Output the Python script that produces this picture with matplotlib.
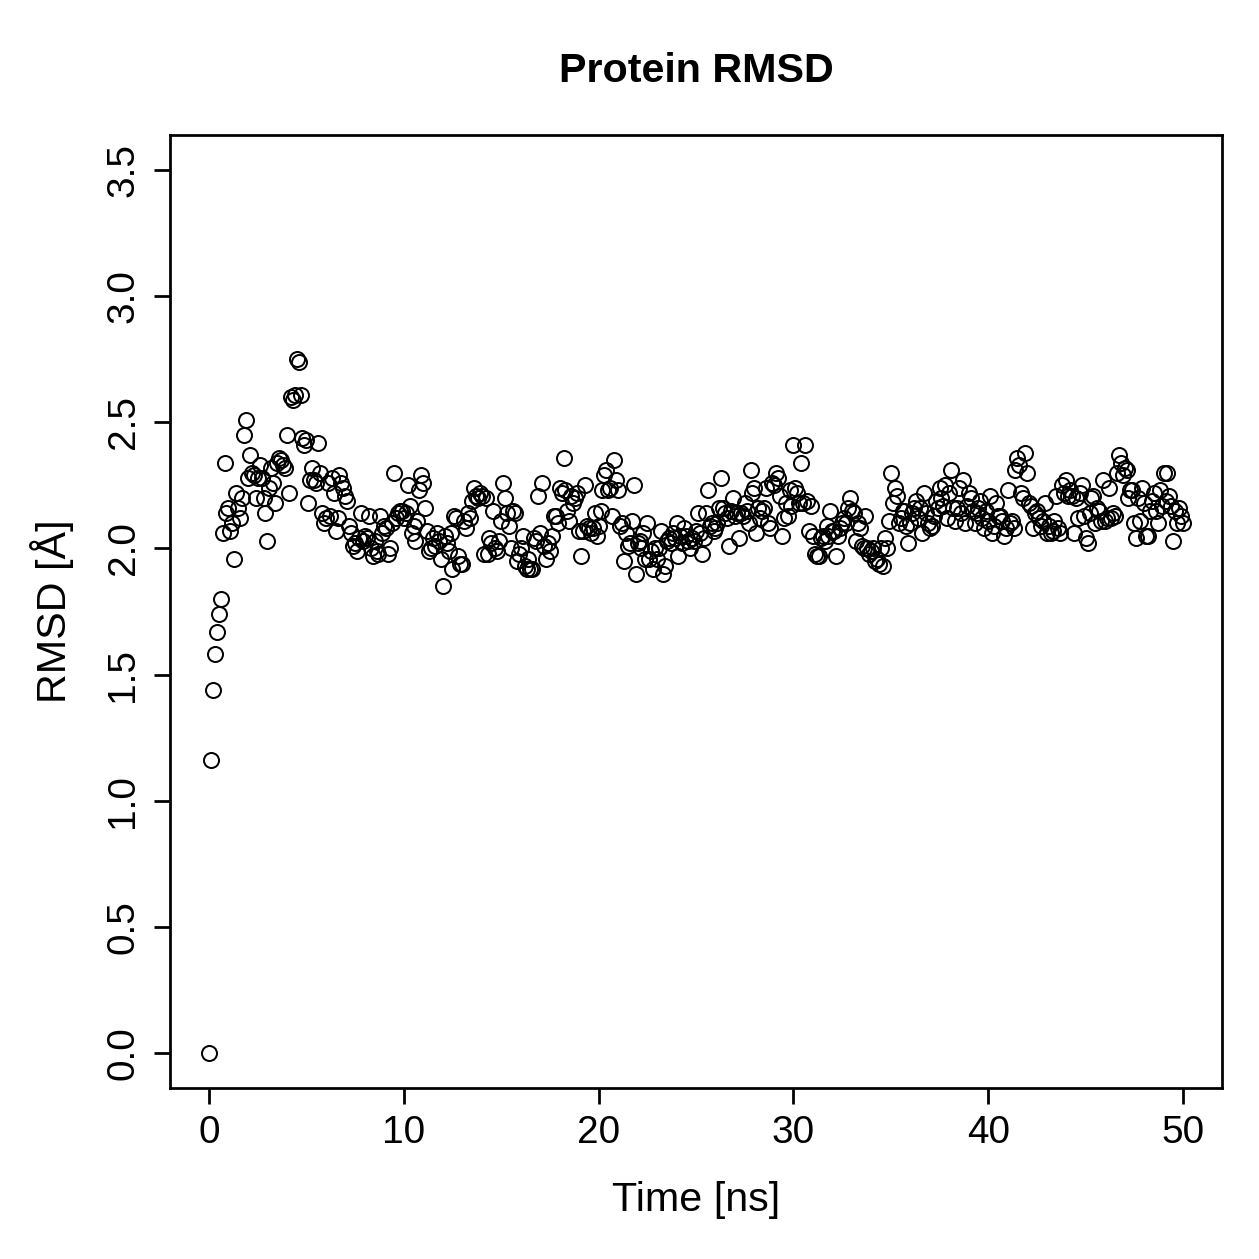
import matplotlib.pyplot as plt
import numpy as np

plt.rcParams['font.family'] = ['Liberation Sans', 'DejaVu Sans']

# RMSD values, one frame every 0.1 ns
rmsd = [
    0.00, 1.16, 1.44, 1.58, 1.67, 1.74, 1.80, 2.06, 2.34, 2.14,
    2.16, 2.07, 2.10, 1.96, 2.22, 2.16, 2.12, 2.20, 2.45, 2.51,
    2.28, 2.37, 2.30, 2.29, 2.20, 2.28, 2.33, 2.28, 2.20, 2.14,
    2.03, 2.24, 2.32, 2.26, 2.18, 2.34, 2.36, 2.35, 2.33, 2.32,
    2.45, 2.22, 2.60, 2.59, 2.61, 2.75, 2.74, 2.61, 2.44, 2.41,
    2.43, 2.18, 2.27, 2.32, 2.27, 2.26, 2.42, 2.30, 2.14, 2.10,
    2.12, 2.26, 2.13, 2.28, 2.22, 2.07, 2.12, 2.29, 2.26, 2.24,
    2.21, 2.19, 2.09, 2.06, 2.01, 2.02, 1.99, 2.04, 2.14, 2.03,
    2.05, 2.04, 2.13, 2.00, 1.97, 2.03, 1.99, 1.98, 2.13, 2.06,
    2.09, 2.08, 1.98, 2.00, 2.10, 2.30, 2.12, 2.14, 2.15, 2.15,
    2.12, 2.14, 2.25, 2.17, 2.06, 2.09, 2.03, 2.11, 2.23, 2.29,
    2.26, 2.16, 2.07, 1.99, 2.00, 2.04, 2.01, 2.06, 2.03, 1.96,
    1.85, 2.05, 2.02, 1.99, 2.06, 1.92, 2.13, 2.12, 1.97, 1.94,
    1.94, 2.11, 2.08, 2.14, 2.12, 2.19, 2.24, 2.21, 2.20, 2.22,
    2.21, 1.98, 2.20, 1.98, 2.04, 2.02, 2.15, 2.00, 1.99, 2.03,
    2.11, 2.26, 2.20, 2.14, 2.09, 2.00, 2.15, 2.14, 1.95, 1.98,
    2.00, 2.05, 1.93, 1.92, 1.96, 1.92, 1.92, 2.04, 2.03, 2.21,
    2.06, 2.26, 2.01, 1.96, 2.02, 1.99, 2.05, 2.13, 2.13, 2.10,
    2.24, 2.22, 2.36, 2.23, 2.15, 2.11, 2.21, 2.18, 2.20, 2.22,
    2.07, 1.97, 2.07, 2.25, 2.09, 2.08, 2.06, 2.08, 2.14, 2.05,
    2.09, 2.15, 2.23, 2.29, 2.31, 2.23, 2.24, 2.13, 2.35, 2.27,
    2.23, 2.09, 2.10, 1.95, 2.06, 2.01, 2.02, 2.11, 2.25, 1.90,
    2.02, 2.03, 2.00, 2.06, 1.96, 2.10, 1.96, 1.99, 1.92, 2.00,
    1.96, 2.00, 2.07, 1.90, 1.93, 2.03, 2.04, 2.02, 2.06, 2.04,
    2.10, 1.97, 2.05, 2.02, 2.08, 2.05, 2.03, 2.00, 2.04, 2.03,
    2.07, 2.14, 2.06, 1.98, 2.04, 2.14, 2.23, 2.09, 2.10, 2.07,
    2.08, 2.10, 2.16, 2.28, 2.16, 2.14, 2.12, 2.01, 2.15, 2.20,
    2.13, 2.14, 2.04, 2.14, 2.13, 2.18, 2.15, 2.10, 2.31, 2.22,
    2.24, 2.06, 2.16, 2.12, 2.15, 2.16, 2.24, 2.10, 2.08, 2.26,
    2.25, 2.30, 2.28, 2.21, 2.05, 2.12, 2.18, 2.13, 2.23, 2.17,
    2.41, 2.24, 2.22, 2.18, 2.34, 2.18, 2.41, 2.19, 2.07, 2.17,
    2.05, 1.98, 1.97, 1.97, 2.04, 2.05, 2.03, 2.09, 2.05, 2.15,
    2.07, 2.07, 1.97, 2.05, 2.08, 2.10, 2.12, 2.10, 2.16, 2.20,
    2.15, 2.14, 2.03, 2.10, 2.08, 2.01, 2.00, 2.13, 2.00, 1.98,
    1.99, 2.00, 1.95, 1.96, 1.94, 2.00, 1.93, 2.04, 2.00, 2.11,
    2.30, 2.18, 2.24, 2.21, 2.10, 2.12, 2.15, 2.15, 2.09, 2.02,
    2.10, 2.14, 2.16, 2.19, 2.12, 2.16, 2.06, 2.22, 2.14, 2.10,
    2.08, 2.09, 2.13, 2.19, 2.16, 2.24, 2.20, 2.17, 2.25, 2.12,
    2.22, 2.31, 2.16, 2.11, 2.16, 2.24, 2.14, 2.27, 2.10, 2.17,
    2.22, 2.20, 2.15, 2.10, 2.14, 2.16, 2.19, 2.12, 2.08, 2.15,
    2.11, 2.21, 2.06, 2.09, 2.18, 2.13, 2.13, 2.11, 2.05, 2.08,
    2.23, 2.10, 2.11, 2.08, 2.31, 2.36, 2.33, 2.22, 2.20, 2.38,
    2.30, 2.18, 2.17, 2.08, 2.14, 2.15, 2.12, 2.09, 2.11, 2.18,
    2.06, 2.09, 2.06, 2.07, 2.11, 2.21, 2.08, 2.06, 2.25, 2.22,
    2.27, 2.21, 2.23, 2.21, 2.06, 2.20, 2.12, 2.22, 2.25, 2.13,
    2.04, 2.02, 2.14, 2.20, 2.21, 2.10, 2.16, 2.15, 2.11, 2.27,
    2.11, 2.12, 2.24, 2.12, 2.14, 2.13, 2.30, 2.37, 2.34, 2.29,
    2.32, 2.31, 2.20, 2.23, 2.23, 2.10, 2.04, 2.20, 2.11, 2.24,
    2.18, 2.05, 2.05, 2.15, 2.19, 2.22, 2.15, 2.10, 2.23, 2.17,
    2.30, 2.19, 2.30, 2.21, 2.17, 2.03, 2.15, 2.10, 2.16, 2.13,
    2.10,
]
time_ns = np.arange(len(rmsd)) * 0.1

W = 1259
fig = plt.figure(figsize=(W / 180, W / 180), dpi=180)
ax = fig.add_axes([170 / W, 1 - 1088 / W, (1222 - 170) / W, (1088 - 135) / W])

ax.plot(time_ns, rmsd, 'o', mfc='none', mec='k', ms=6.0, mew=0.8)

ax.set_xlim(-2, 52)
ax.set_ylim(-0.14, 3.64)
ax.set_xticks(np.arange(0, 51, 10))
ax.set_yticks(np.arange(0, 3.51, 0.5))
ax.set_yticklabels(['%.1f' % v for v in np.arange(0, 3.51, 0.5)],
                   rotation=90, va='center')
ax.tick_params(length=6.4, width=1.1, labelsize=15.5)
ax.tick_params(axis='x', pad=4.5)
ax.tick_params(axis='y', pad=5)
for s in ax.spines.values():
    s.set_linewidth(1.1)

fig.text(696 / W, 1 - 71 / W, 'Protein RMSD', ha='center', va='center',
         fontsize=16.5, fontweight='bold')
fig.text(696 / W, 1 - 1200 / W, 'Time [ns]', ha='center', va='center',
         fontsize=16.5)
fig.text(52 / W, 1 - 611 / W, 'RMSD [Å]', ha='center', va='center',
         rotation=90, fontsize=16.5)

fig.savefig('out.png', dpi=180)
